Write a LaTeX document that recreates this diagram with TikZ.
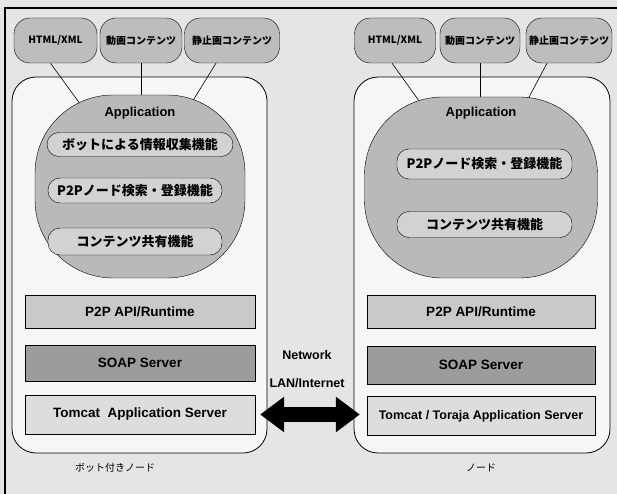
\documentclass[tikz,border=0pt]{standalone}
\usepackage{fontspec}
\setmainfont{Liberation Sans}
\newfontfamily\jp{Noto Sans CJK JP}
\usetikzlibrary{arrows.meta,calc}
\begin{document}
\begin{tikzpicture}[x=1pt,y=-1pt,
  toppill/.style={draw, rounded corners=16pt, fill=gray!52, minimum height=45pt, inner sep=0pt, font=\jp\bfseries\fontsize{10}{11}\selectfont},
  nodebox/.style={draw, line width=0.8pt, rounded corners=24pt, fill=gray!7, inner sep=0pt},
  appblob/.style={draw, rounded corners=78pt, fill=gray!55, inner sep=0pt},
  fnpill/.style={draw, rounded corners=12pt, fill=gray!35, inner sep=0pt, font=\jp\bfseries\fontsize{13}{14}\selectfont},
  layer/.style={draw, inner sep=0pt, font=\bfseries\fontsize{13.5}{15}\selectfont},
  apilayer/.style={layer, fill=gray!42},
  soaplayer/.style={layer, fill=gray!78},
  tomcatlayer/.style={layer, fill=gray!27},
  applabel/.style={font=\bfseries\fontsize{13}{15}\selectfont},
  netlabel/.style={font=\bfseries\fontsize{12.5}{14}\selectfont},
  caption/.style={font=\jp\fontsize{10}{12}\selectfont},
  conn/.style={draw, line width=0.6pt},
  netarrow/.style={line width=15pt, {Triangle[width=34pt,length=24pt]}-{Triangle[width=34pt,length=24pt]}}
]
\useasboundingbox (0,0) rectangle (617,494);
\fill[gray!20] (0,0) rectangle (617,494);
\draw[line width=1.2pt] (5,494) -- (5,8) -- (617,8);

% node boxes
\node[nodebox, minimum width=255pt, minimum height=376pt] (lnode) at (139.5,265) {};
\node[nodebox, minimum width=256pt, minimum height=376pt] (rnode) at (482,265) {};

% top pills
\node[toppill, minimum width=83pt] (lhtml) at (55.5,40.5) {HTML/XML};
\node[toppill, minimum width=82pt] (ldoga) at (141,40.5) {動画コンテンツ};
\node[toppill, minimum width=95pt] (lseishi) at (232,40.5) {静止画コンテンツ};
\node[toppill, minimum width=81pt] (rhtml) at (395,40.5) {HTML/XML};
\node[toppill, minimum width=80pt] (rdoga) at (480,40.5) {動画コンテンツ};
\node[toppill, minimum width=86pt] (rseishi) at (569,40.5) {静止画コンテンツ};

% application blob centres for connectors
\coordinate (lappc) at (140,186.5);
\coordinate (rappc) at (481,187.5);

% connectors (drawn under the blobs)
\draw[conn] ($(lhtml.south)+(-5,0)$) -- (lappc);
\draw[conn] (ldoga.south) -- (ldoga.south |- lappc);
\draw[conn] ($(lseishi.south)+(-16,0)$) -- (lappc);
\draw[conn] ($(rhtml.south)+(-3,0)$) -- (rappc);
\draw[conn] (rdoga.south) -- (rdoga.south |- rappc);
\draw[conn] ($(rseishi.south)+(-22,0)$) -- (rappc);

\node[appblob, minimum width=210pt, minimum height=183pt] (lapp) at (lappc) {};
\node[appblob, minimum width=233pt, minimum height=181pt] (rapp) at (rappc) {};
\node[applabel] (lapplbl) at (140,113) {Application};
\node[applabel] (rapplbl) at (481,113) {Application};

% function pills
\node[fnpill, minimum width=186pt, minimum height=24pt] (lbot) at (140,144.5) {ボットによる情報収集機能};
\node[fnpill, minimum width=174pt, minimum height=25pt] (lp2p) at (135,190.5) {P2Pノード検索・登録機能};
\node[fnpill, minimum width=174pt, minimum height=27pt] (lcont) at (135,241.5) {コンテンツ共有機能};
\node[fnpill, minimum width=175pt, minimum height=30pt] (rp2p) at (484.5,164) {P2Pノード検索・登録機能};
\node[fnpill, minimum width=175pt, minimum height=26pt] (rcont) at (484.5,224.5) {コンテンツ共有機能};

% layers
\node[apilayer, minimum width=230pt, minimum height=33pt] (lapi) at (140,311.5) {P2P API/Runtime};
\node[soaplayer, minimum width=230pt, minimum height=36pt] (lsoap) at (140,363) {SOAP Server};
\node[tomcatlayer, minimum width=230pt, minimum height=39pt] (ltomcat) at (140,414.5) {Tomcat\ \ Application Server};
\node[apilayer, minimum width=228pt, minimum height=33pt] (rapi) at (481,311.5) {P2P API/Runtime};
\node[soaplayer, minimum width=228pt, minimum height=38pt] (rsoap) at (481,365) {SOAP Server};
\node[tomcatlayer, minimum width=228pt, minimum height=39pt, font=\bfseries\fontsize{12.5}{14}\selectfont] (rtomcat) at (481,416) {Tomcat / Toraja\ Application Server};

% network
\node[netlabel] (netlbl) at (307,355) {Network};
\node[netlabel] (lanlbl) at (307,383) {LAN/Internet};
\draw[netarrow, shorten <=5pt, shorten >=7pt] (ltomcat.east) -- (ltomcat.east -| rtomcat.west);

% captions
\node[caption] (lcap) at (115,468) {ボット付きノード};
\node[caption] (rcap) at (481,468) {ノード};
\end{tikzpicture}
\end{document}
